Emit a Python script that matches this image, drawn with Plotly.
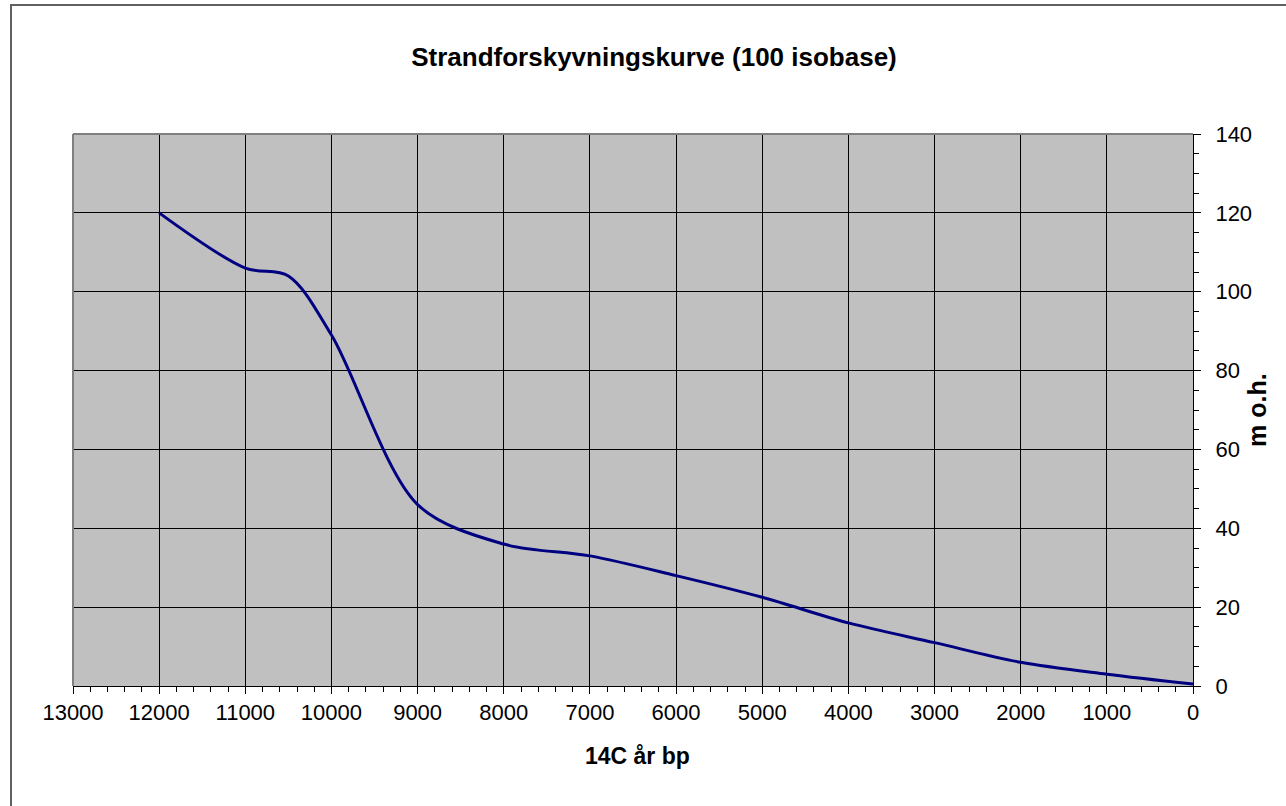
import plotly.graph_objects as go

# Shoreline displacement curve, 100 isobase
years_bp = [12000, 11000, 10500, 10000, 9000, 8000, 7000, 6000, 5000, 4000, 3000, 2000, 1000, 0]
height_m = [120, 106, 104, 89, 46, 36, 33, 28, 22.5, 16, 11, 6, 3, 0.5]

x_tickvals = list(range(0, 14000, 1000))
y_tickvals = list(range(0, 160, 20))

FONT = "Arial, Liberation Sans, sans-serif"

W, H = 1286, 806
L, R, T, B = 73, 93, 134, 120
pw, ph = W - L - R, H - T - B

fig = go.Figure()
fig.add_trace(go.Scatter(
    x=years_bp, y=height_m, mode="lines",
    line=dict(color="#000080", width=3, shape="spline", smoothing=0.9),
    showlegend=False, hoverinfo="x+y",
))

fig.update_layout(
    width=W, height=H,
    margin=dict(l=L, r=R, t=T, b=B),
    paper_bgcolor="white",
    plot_bgcolor="#C0C0C0",
    font=dict(family=FONT, color="black", size=22),
    title=dict(
        text="<b>Strandforskyvningskurve (100 isobase)</b>",
        font=dict(family=FONT, size=26, color="black"),
        x=654 / W, xref="container", xanchor="center",
        y=1 - 57 / H, yref="container", yanchor="middle",
    ),
    xaxis=dict(
        range=[13000, 0],
        tickvals=x_tickvals, ticktext=[str(v) for v in x_tickvals],
        ticks="outside", ticklen=7, tickwidth=1, tickcolor="black",
        showgrid=True, gridcolor="black", gridwidth=1,
        showline=True, linecolor="black", linewidth=1,
        zeroline=False,
        minor=dict(dtick=200, ticks="outside", ticklen=5, tickcolor="black", showgrid=False),
        tickfont=dict(size=22),
    ),
    yaxis=dict(
        range=[0, 140], side="right",
        tickvals=y_tickvals,
        ticks="outside", ticklen=7, tickwidth=1, tickcolor="black",
        ticklabelstandoff=10,
        showgrid=True, gridcolor="black", gridwidth=1,
        showline=True, linecolor="black", linewidth=1,
        zeroline=False,
        minor=dict(dtick=5, ticks="outside", ticklen=5, tickcolor="black", showgrid=False),
        tickfont=dict(size=22),
    ),
    annotations=[
        dict(text="<b>14C år bp</b>", xref="paper", yref="paper",
             x=(637 - L) / pw, y=(H - B - 756) / ph,
             xanchor="center", yanchor="middle", showarrow=False,
             font=dict(size=23)),
        dict(text="<b>m o.h.</b>", xref="paper", yref="paper",
             x=(1257 - L) / pw, y=0.5, textangle=-90,
             xanchor="center", yanchor="middle", showarrow=False,
             font=dict(size=25)),
    ],
    shapes=[
        # grey frame on top and left of the plot area
        dict(type="line", xref="paper", yref="paper", x0=0, x1=1, y0=1, y1=1,
             line=dict(color="#808080", width=2), layer="above"),
        dict(type="line", xref="paper", yref="paper", x0=0, x1=0, y0=0, y1=1,
             line=dict(color="#808080", width=2), layer="above"),
        # outer chart border
        dict(type="rect", xref="paper", yref="paper",
             x0=(11 - L) / pw, x1=(1300 - L) / pw,
             y0=(H - B - 820) / ph, y1=(H - B - 5) / ph,
             line=dict(color="#606060", width=2), fillcolor="rgba(0,0,0,0)",
             layer="below"),
    ],
)

fig.write_html("out.html")
